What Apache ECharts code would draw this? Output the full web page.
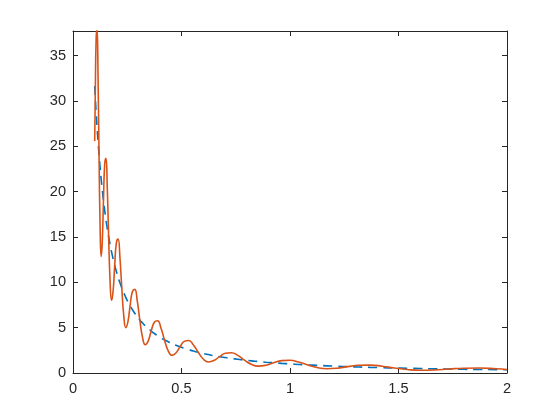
<!DOCTYPE html>
<html>
<head>
<meta charset="utf-8">
<script src="https://cdn.jsdelivr.net/npm/echarts@6/dist/echarts.min.js"></script>
<style>
html,body{margin:0;padding:0;background:#fff;}
#chart{width:560px;height:420px;}
</style>
</head>
<body>
<div id="chart"></div>
<script>
var xs = [0.1, 0.10253, 0.10663, 0.11090, 0.11534, 0.11996, 0.12477, 0.12976, 0.13496, 0.14037, 0.14599,
  0.15184, 0.15792, 0.16424, 0.17082, 0.17766, 0.18478, 0.19218, 0.19987, 0.20788, 0.21621,
  0.22486, 0.23387, 0.24324, 0.25298, 0.26311, 0.27365, 0.28461, 0.29601, 0.30786, 0.32019,
  0.33302, 0.34636, 0.36023, 0.37466, 0.38966, 0.40527, 0.42150, 0.43838, 0.45594, 0.47420,
  0.49319, 0.51294, 0.53349, 0.55486, 0.57708, 0.60019, 0.62423, 0.64923, 0.67523, 0.70228,
  0.73040, 0.75966, 0.79008, 0.82173, 0.85464, 0.88887, 0.92447, 0.96149, 1.0, 1.04005,
  1.08171, 1.12503, 1.17009, 1.21695, 1.26569, 1.31638, 1.36911, 1.42394, 1.48097, 1.54029,
  1.60198, 1.66614, 1.73287, 1.80227, 1.87446, 1.94953, 2.0];

var blueValues = [31.62, 30.46, 28.72, 27.08, 25.53, 24.07, 22.69, 21.39, 20.17, 19.02, 17.93,
  16.90, 15.94, 15.02, 14.16, 13.35, 12.59, 11.87, 11.19, 10.55, 9.95,
  9.38, 8.84, 8.34, 7.86, 7.41, 6.99, 6.59, 6.21, 5.85, 5.52,
  5.20, 4.91, 4.63, 4.36, 4.11, 3.88, 3.65, 3.45, 3.25, 3.06,
  2.89, 2.72, 2.57, 2.42, 2.28, 2.15, 2.03, 1.91, 1.80, 1.70,
  1.60, 1.51, 1.42, 1.34, 1.27, 1.19, 1.13, 1.06, 1.00, 0.94,
  0.89, 0.84, 0.79, 0.74, 0.70, 0.66, 0.62, 0.59, 0.55, 0.52,
  0.49, 0.46, 0.44, 0.41, 0.39, 0.37, 0.35];

var orangeValues = [25.56, 30.46, 36.84, 37.91, 32.75, 24.07, 16.27, 12.84, 14.47, 19.02, 23.00,
  23.66, 20.44, 15.02, 10.16, 8.01, 9.03, 11.87, 14.36, 14.77, 12.76,
  9.38, 6.34, 5.00, 5.64, 7.41, 8.96, 9.22, 7.97, 5.85, 3.96,
  3.12, 3.52, 4.63, 5.59, 5.76, 4.97, 3.65, 2.47, 1.95, 2.20,
  2.89, 3.49, 3.59, 3.10, 2.28, 1.54, 1.22, 1.37, 1.80, 2.18,
  2.24, 1.94, 1.42, 0.96, 0.76, 0.86, 1.13, 1.36, 1.40, 1.21,
  0.89, 0.60, 0.47, 0.53, 0.70, 0.85, 0.87, 0.75, 0.55, 0.38,
  0.30, 0.33, 0.44, 0.53, 0.55, 0.47, 0.39];

var xTicks = [0, 0.5, 1, 1.5, 2];
var yTicks = [0, 5, 10, 15, 20, 25, 30, 35];
var yMax = 37.7;

function pairs(xv, yv) {
  var out = [];
  for (var i = 0; i < xv.length; i++) out.push([xv[i], yv[i]]);
  return out;
}

var axisColor = '#262626';
var fontFamily = '"Liberation Sans", Arial, Helvetica, sans-serif';

function xAxisCfg(pos, showLabels) {
  return {
    type: 'value', position: pos, min: xTicks[0], max: xTicks[xTicks.length - 1], interval: 0.5,
    axisLine: { show: true, onZero: false, lineStyle: { color: axisColor, width: 1 } },
    axisTick: { show: true, inside: true, length: 5, lineStyle: { color: axisColor, width: 1 } },
    axisLabel: { show: showLabels, color: axisColor, fontSize: 14.6, fontFamily: fontFamily, margin: 8,
      formatter: function (v) { return String(v); } },
    splitLine: { show: false }
  };
}
function yAxisCfg(pos, showLabels) {
  return {
    type: 'value', position: pos, min: yTicks[0], max: yMax, interval: 5,
    axisLine: { show: true, onZero: false, lineStyle: { color: axisColor, width: 1 } },
    axisTick: { show: true, inside: true, length: 5, lineStyle: { color: axisColor, width: 1 } },
    axisLabel: { show: showLabels, color: axisColor, fontSize: 14.6, fontFamily: fontFamily, margin: 7,
      showMaxLabel: false,
      formatter: function (v) { return yTicks.indexOf(v) >= 0 ? String(v) : ''; } },
    splitLine: { show: false }
  };
}

var chart = echarts.init(document.getElementById('chart'), null, { renderer: 'canvas' });
chart.setOption({
  animation: false,
  backgroundColor: '#ffffff',
  grid: { left: 73, right: 53, top: 31, bottom: 47, containLabel: false },
  xAxis: [xAxisCfg('bottom', true), xAxisCfg('top', false)],
  yAxis: [yAxisCfg('left', true), yAxisCfg('right', false)],
  series: [
    {
      type: 'line', xAxisIndex: 0, yAxisIndex: 0,
      data: pairs(xs, blueValues), showSymbol: false, symbol: 'none', smooth: true,
      lineStyle: { color: '#0072BD', width: 1.6, type: [9, 6] }
    },
    {
      type: 'line', xAxisIndex: 0, yAxisIndex: 0,
      data: pairs(xs, orangeValues), showSymbol: false, symbol: 'none', smooth: true,
      lineStyle: { color: '#D95319', width: 1.6 }
    }
  ]
});
</script>
</body>
</html>
